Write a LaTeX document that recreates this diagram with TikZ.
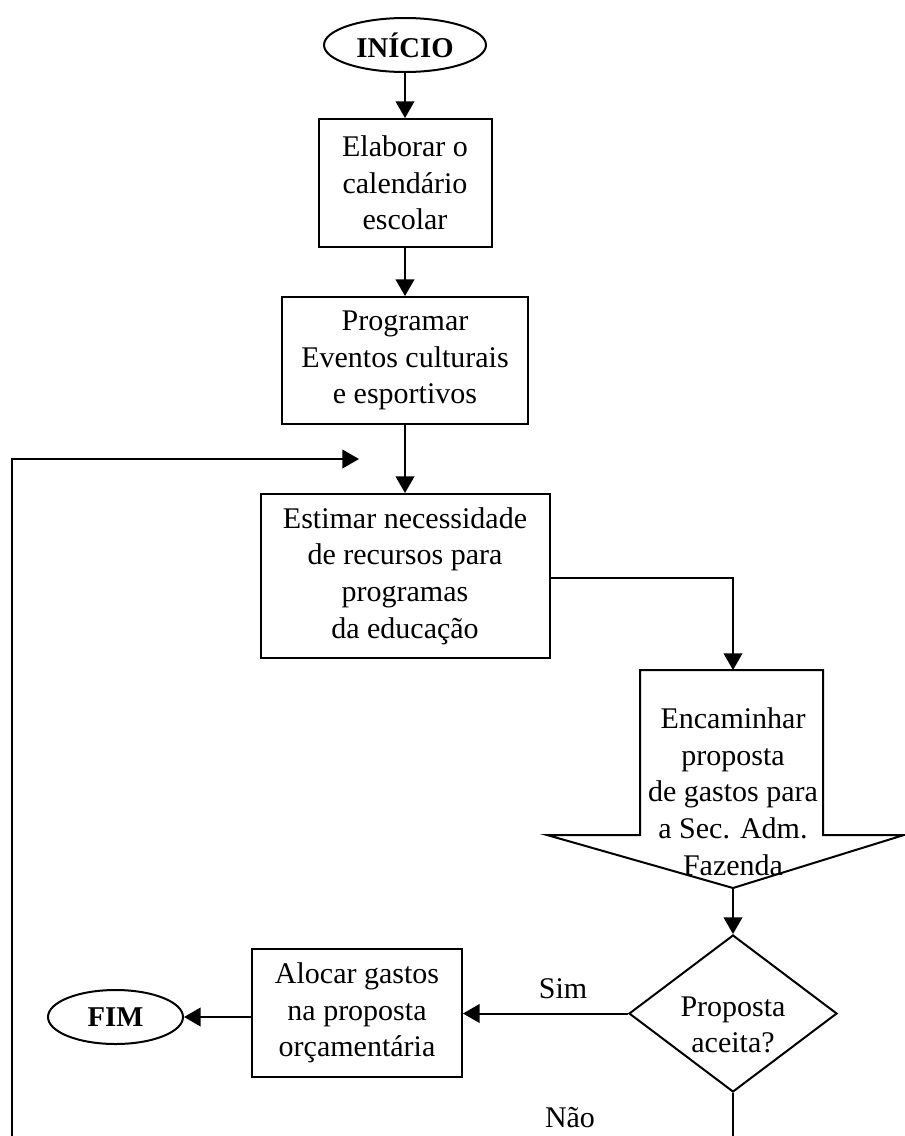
\documentclass[tikz,border=0pt]{standalone}
\usepackage{fontspec}
\setmainfont{Liberation Serif}
\usetikzlibrary{arrows.meta,shapes.geometric}

\tikzset{
  flow/.style={line width=1.5pt, -{Triangle[length=12.5pt,width=14pt]}},
  plain/.style={line width=1.5pt},
  procbox/.style={draw, line width=1.5pt, rectangle, inner sep=0pt, align=center,
    font=\fontsize{22.5pt}{27.5pt}\selectfont},
  terminal/.style={draw, line width=1.5pt, ellipse, inner sep=0pt,
    font=\fontsize{21.5pt}{25pt}\selectfont\bfseries},
  decision/.style={draw, line width=1.5pt, diamond, inner sep=0pt},
  txt/.style={inner sep=0pt, align=center, font=\fontsize{22.5pt}{27.5pt}\selectfont},
}

\begin{document}
\begin{tikzpicture}[x=0.75pt,y=-0.75pt]
  \useasboundingbox (0,0) rectangle (905,1136);

  % start / end terminals
  \node[terminal, minimum width=121.5pt, minimum height=40.5pt] (start) at (405,45) {INÍCIO};
  \node[terminal, minimum width=101.25pt, minimum height=40.5pt] (fim) at (115.5,1017) {FIM};

  % process boxes
  \node[procbox, minimum width=129.75pt, minimum height=96pt] (b1) at (405,183)
    {Elaborar o\\calendário\\escolar};
  \node[procbox, minimum width=184.5pt, minimum height=95.25pt] (b2) at (405,360.5)
    {Programar\\Eventos culturais\\e esportivos};
  \node[procbox, minimum width=216.75pt, minimum height=123pt] (b3) at (405,576)
    {Estimar necessidade\\de recursos para\\programas\\da educação};
  \node[procbox, minimum width=157.5pt, minimum height=96pt] (alloc) at (357,1013)
    {Alocar gastos\\na proposta\\orçamentária};

  % off-page connector (block arrow)
  \coordinate (sendtop) at (733,670);
  \coordinate (sendtip) at (733,888);
  \draw[plain, line join=miter] (640,670) -- (823,670) -- (823,835) -- (904,835)
    -- (sendtip) -- (547,835) -- (640,835) -- cycle;
  \node[txt] (send) at (733,791.5)
    {Encaminhar\\proposta\\de gastos para\\a Sec. Adm.\\Fazenda};

  % decision
  \node[decision, minimum width=156pt, minimum height=117.75pt] (dec) at (733,1013.5) {};
  \node[txt] (dectext) at (733,1025) {Proposta\\aceita?};

  % connectors
  \draw[flow] (start.south) -- (b1.north);
  \draw[flow] (b1.south) -- (b2.north);
  \draw[flow] (b2.south) -- (b3.north);
  \draw[flow] (b3.east |- 0,578) -- (733,578) -- (sendtop);
  \draw[flow] (sendtip) -- (dec.north);
  \draw[flow] (dec.west) -- (alloc.east |- dec.west);
  \draw[flow] (alloc.west |- fim.east) -- (fim.east);

  % loop back and "no" branch, continuing below the page
  \coordinate (loopstart) at (12,1136);
  \coordinate (loopend) at (359,459);
  \coordinate (nobottom) at (733,1136);
  \draw[flow] (loopstart) -- (12,459) -- (loopend);
  \draw[plain] (dec.south) -- (nobottom);

  % branch labels
  \node[txt] (sim) at (563,989) {Sim};
  \node[txt] (nao) at (570,1118) {Não};
\end{tikzpicture}
\end{document}
